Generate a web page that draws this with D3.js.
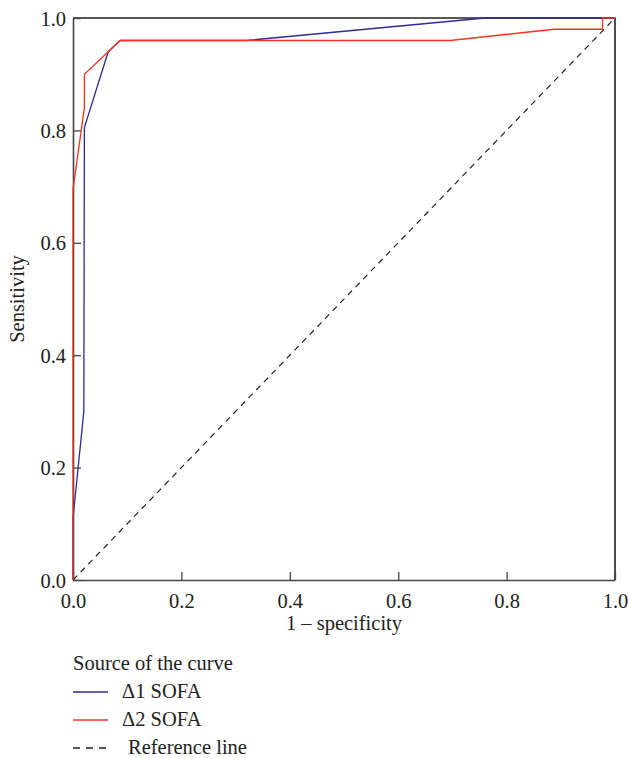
<!DOCTYPE html>
<html>
<head>
<meta charset="utf-8">
<script src="https://cdn.jsdelivr.net/npm/d3@7"></script>
<style>
  body { margin: 0; background: #fff; }
  text { font-family: "Liberation Serif", "DejaVu Serif", serif; fill: #222; }
</style>
</head>
<body>
<script>
//data
var sofa1_x = [0, 0, 0.02, 0.021, 0.065, 0.087, 0.32, 0.76, 1];
var sofa1_y = [0, 0.11, 0.30, 0.805, 0.94, 0.96, 0.96, 1.0, 1];
var sofa2_x = [0, 0, 0.021, 0.021, 0.087, 0.696, 0.888, 0.977, 0.977, 1];
var sofa2_y = [0, 0.695, 0.84, 0.90, 0.96, 0.96, 0.98, 0.98, 1.0, 1];
var ref_x = [0, 1];
var ref_y = [0, 1];
var ticks = [0, 0.2, 0.4, 0.6, 0.8, 1.0];
var legend_labels = ["\u03941 SOFA", "\u03942 SOFA", "Reference line"];

//layout
var width = 629;
var height = 758;
var plot_left = 73, plot_right = 615, plot_top = 18, plot_bottom = 580;
var font_size = 20.5;
var blue = "#2e2a96";
var red = "#f5331f";

var svg = d3.select("body").append("svg")
    .attr("width", width)
    .attr("height", height);

var x = d3.scaleLinear().domain([0, 1]).range([plot_left, plot_right]);
var y = d3.scaleLinear().domain([0, 1]).range([plot_bottom, plot_top]);

//frame (top and right)
svg.append("path")
    .attr("d", "M" + plot_left + "," + plot_top + "H" + plot_right + "V" + plot_bottom)
    .attr("fill", "none")
    .attr("stroke", "#222")
    .attr("stroke-width", 1.6);

//axes
var xAxis = svg.append("g")
    .attr("transform", "translate(0," + plot_bottom + ")")
    .call(d3.axisBottom(x).tickValues(ticks).tickSizeInner(-8).tickSizeOuter(0).tickPadding(13).tickFormat(d3.format(".1f")));
var yAxis = svg.append("g")
    .attr("transform", "translate(" + plot_left + ",0)")
    .call(d3.axisLeft(y).tickValues(ticks).tickSizeInner(-8).tickSizeOuter(0).tickPadding(7).tickFormat(d3.format(".1f")));

[xAxis, yAxis].forEach(function (a) {
    a.select(".domain").attr("stroke", "#444").attr("stroke-width", 1.6);
    a.selectAll(".tick line").attr("stroke", "#444").attr("stroke-width", 1.3);
    a.selectAll(".tick text").attr("font-size", font_size).attr("font-family", null).attr("fill", "#222");
});
xAxis.selectAll(".tick text").attr("dy", "0.71em");
yAxis.selectAll(".tick text").attr("dy", "0.35em");

//axis titles
svg.append("text")
    .attr("x", (plot_left + plot_right) / 2)
    .attr("y", 630)
    .attr("text-anchor", "middle")
    .attr("font-size", font_size)
    .text("1 \u2013 specificity");

svg.append("text")
    .attr("transform", "translate(24," + (plot_top + plot_bottom) / 2 + ") rotate(-90)")
    .attr("text-anchor", "middle")
    .attr("font-size", font_size)
    .text("Sensitivity");

//curves
var line = d3.line()
    .x(function (d) { return x(d[0]); })
    .y(function (d) { return y(d[1]); });

function pairs(xs, ys) {
    return xs.map(function (v, i) { return [v, ys[i]]; });
}

svg.append("path")
    .attr("d", line(pairs(ref_x, ref_y)))
    .attr("fill", "none")
    .attr("stroke", "#222")
    .attr("stroke-width", 1.2)
    .attr("stroke-dasharray", "6,5");

svg.append("path")
    .attr("d", line(pairs(sofa1_x, sofa1_y)))
    .attr("fill", "none")
    .attr("stroke", blue)
    .attr("stroke-width", 1.3);

svg.append("path")
    .attr("d", line(pairs(sofa2_x, sofa2_y)))
    .attr("fill", "none")
    .attr("stroke", red)
    .attr("stroke-width", 1.3);

//legend
var legend = svg.append("g");
legend.append("text")
    .attr("x", 73)
    .attr("y", 670)
    .attr("font-size", font_size)
    .text("Source of the curve");

var legend_colours = [blue, red, "#222"];
var legend_text_x = [122, 122, 128];
legend_labels.forEach(function (lab, i) {
    var ly = 692 + i * 28;
    legend.append("line")
        .attr("x1", 73).attr("x2", 108)
        .attr("y1", ly).attr("y2", ly)
        .attr("stroke", legend_colours[i])
        .attr("stroke-width", 1.3)
        .attr("stroke-dasharray", i == 2 ? "7,6" : null);
    legend.append("text")
        .attr("x", legend_text_x[i])
        .attr("y", ly + 6)
        .attr("font-size", font_size)
        .text(lab);
});
</script>
</body>
</html>
